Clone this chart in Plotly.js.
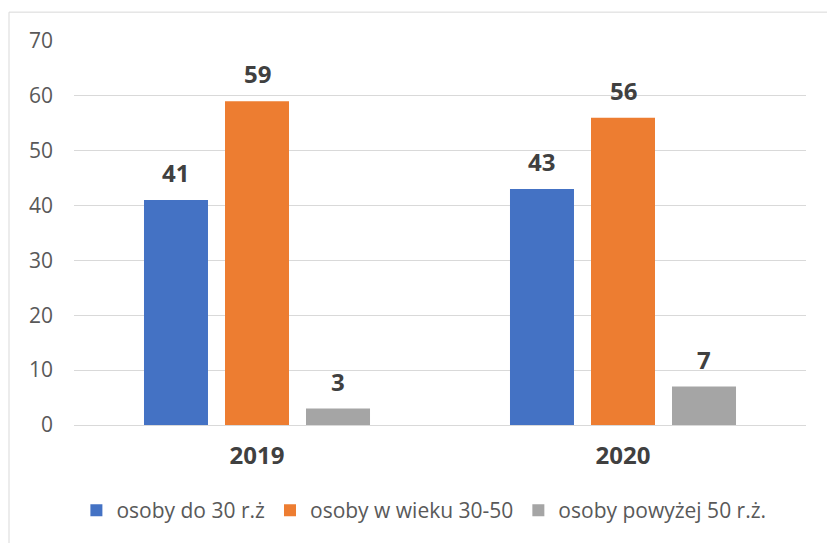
<!DOCTYPE html>
<html>
<head>
<meta charset="utf-8">
<script src="https://cdn.plot.ly/plotly-3.0.1.min.js"></script>
<style>html,body{margin:0;padding:0;background:#fff;}</style>
</head>
<body>
<div id="chart" style="width:827px;height:543px;"></div>
<script>
const categories = ['2019', '2020'];
const seriesNames = ['osoby do 30 r.ż', 'osoby w wieku 30-50', 'osoby powyżej 50 r.ż.'];
const young = [41, 43];
const middle = [59, 56];
const older = [3, 7];
const seriesValues = [young, middle, older];
const colors = ['#4472C4', '#ED7D31', '#A5A5A5'];
const yTicks = [0, 10, 20, 30, 40, 50, 60, 70];

const W = 827, H = 543;
const margin = {l: 74, r: 21, t: 41, b: 116, pad: 0};
const bargap = 0.336, bargroupgap = 0.21;
const plotW = W - margin.l - margin.r;
const catPx = plotW / categories.length;
const slotPx = catPx * (1 - bargap) / seriesValues.length;

const traces = seriesValues.map((vals, i) => ({
  type: 'bar',
  name: seriesNames[i],
  x: categories,
  y: vals,
  marker: {color: colors[i]},
  hoverinfo: 'skip'
}));

const annotations = [];
seriesValues.forEach((vals, i) => {
  vals.forEach((v, j) => {
    annotations.push({
      x: j, y: v, xref: 'x', yref: 'y',
      text: '<b>' + v + '</b>', showarrow: false,
      xshift: (i - (seriesValues.length - 1) / 2) * slotPx,
      yanchor: 'bottom', yshift: 9,
      font: {family: 'Open Sans, sans-serif', size: 24, color: '#404040'}
    });
  });
});

const layout = {
  width: W, height: H,
  margin: margin,
  paper_bgcolor: '#fff', plot_bgcolor: '#fff',
  barmode: 'group', bargap: bargap, bargroupgap: bargroupgap,
  showlegend: true,
  legend: {
    orientation: 'h', x: 0.478, xanchor: 'center', y: -0.223, yanchor: 'middle',
    font: {family: 'Open Sans, sans-serif', size: 21, color: '#595959'},
    itemwidth: 30, traceorder: 'normal'
  },
  xaxis: {
    type: 'category',
    range: [-0.5, categories.length - 0.5],
    showgrid: false, zeroline: false, showline: false,
    ticks: 'outside', ticklen: 9, tickcolor: 'rgba(0,0,0,0)',
    tickfont: {family: 'Open Sans, sans-serif', size: 24, color: '#404040', weight: 'bold'},
    fixedrange: true
  },
  yaxis: {
    range: [0, 70],
    tickvals: yTicks, ticktext: yTicks.map(String),
    showgrid: true, gridcolor: '#D9D9D9', gridwidth: 1,
    zeroline: true, zerolinecolor: '#D9D9D9', zerolinewidth: 1,
    showline: false, ticks: '', ticklabelstandoff: 20,
    tickfont: {family: 'Open Sans, sans-serif', size: 21, color: '#595959'},
    fixedrange: true
  },
  annotations: annotations,
  shapes: [{
    type: 'rect', xref: 'paper', yref: 'paper',
    x0: (9 - margin.l) / plotW, x1: 1.2,
    y0: -0.5, y1: (H - margin.b - 12) / (H - margin.t - margin.b),
    line: {color: '#D9D9D9', width: 1}, fillcolor: 'rgba(0,0,0,0)', layer: 'below'
  }]
};

Plotly.newPlot('chart', traces, layout, {staticPlot: true, displayModeBar: false});
</script>
</body>
</html>
